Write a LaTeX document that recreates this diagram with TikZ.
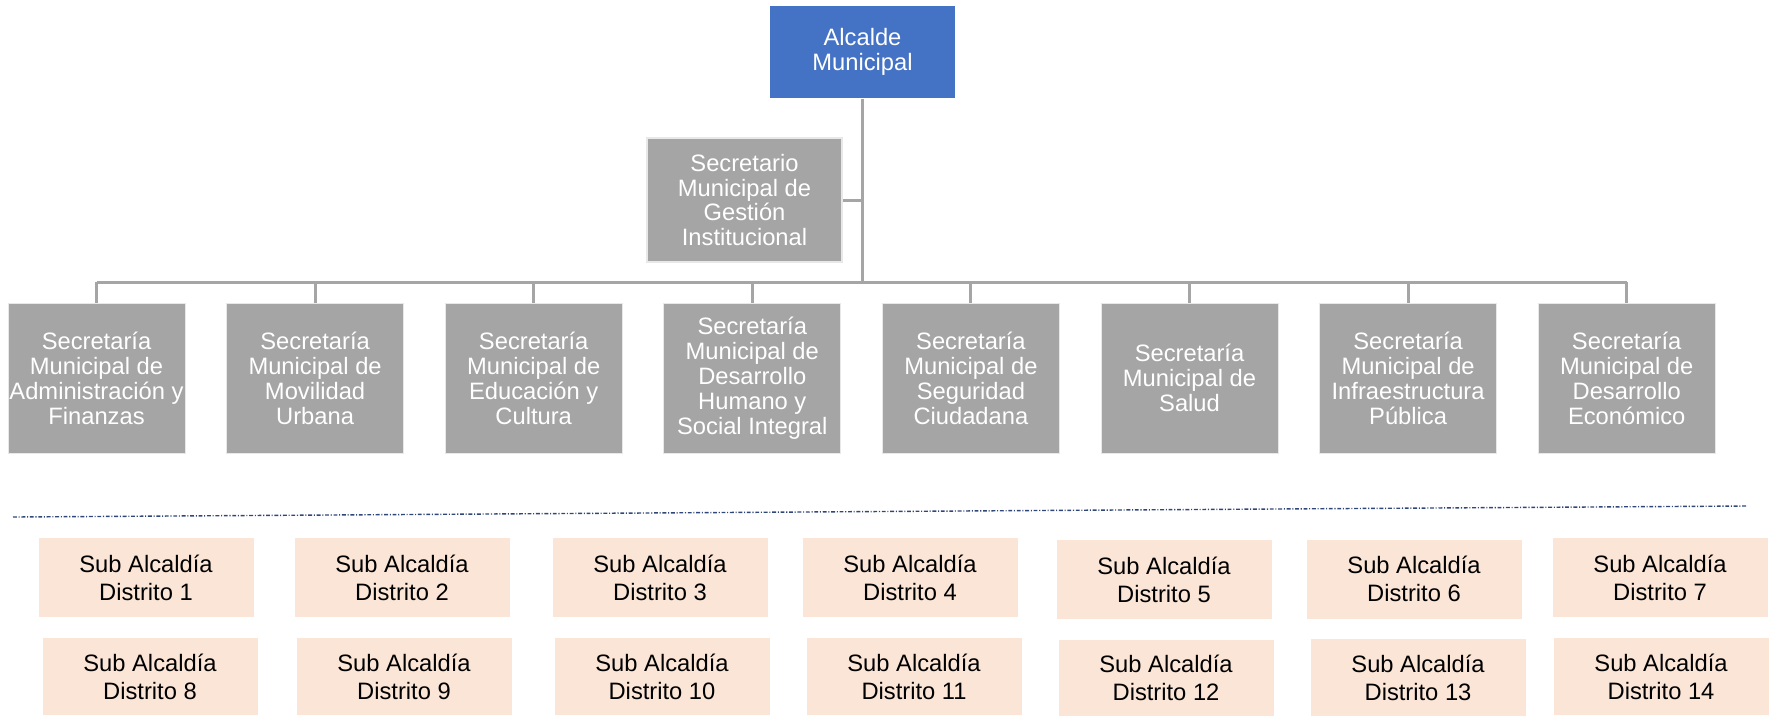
\documentclass[tikz,border=0pt]{standalone}
\usepackage{fontspec}
\setmainfont{Liberation Sans}
\definecolor{accentblue}{HTML}{4472C4}
\definecolor{officegray}{HTML}{A5A5A5}
\definecolor{peach}{HTML}{FBE5D6}
\definecolor{navy}{HTML}{2F4679}
\colorlet{officegraylight}{officegray!25}
\tikzstyle{unit box} = [%
	rectangle,
	align=center,
	inner xsep=0pt,
	inner ysep=1pt,
	text=white,
	font=\fontsize{6.75}{7.1}\selectfont
]
\tikzstyle{mayor} = [%
	unit box,
	fill=accentblue,
	minimum width=18.5mm,
	minimum height=9.2mm
]
\tikzstyle{office} = [%
	unit box,
	fill=officegray,
	draw=officegraylight,
	line width=0.6pt,
	minimum width=19.5mm,
	minimum height=12.4mm
]
\tikzstyle{secretariat} = [%
	unit box,
	fill=officegray,
	draw=officegraylight,
	line width=0.2pt,
	minimum width=17.7mm,
	minimum height=15mm
]
\tikzstyle{district} = [%
	rectangle,
	align=center,
	inner sep=1pt,
	fill=peach,
	minimum width=21.5mm,
	minimum height=7.9mm,
	font=\fontsize{6.75}{8}\selectfont
]
\tikzstyle{district low} = [district, minimum height=7.7mm]
\tikzstyle{link} = [draw=officegray, line width=0.85pt]

\begin{document}
\begin{tikzpicture}[x=0.1mm, y=-0.1mm]

\useasboundingbox (0,0) rectangle (1772,715);

% head of the chart
\node[mayor] (mayor) at (862.5,52) {Alcalde\\Municipal};
\node[office] (gestion) at (744.5,200) {%
	Secretario\\Municipal de\\Gestión\\Institucional
};

% secretariats, one row
\begin{scope}[node distance=21.86mm]
	\node[secretariat] (s1) at (96.5,378) {Secretaría\\Municipal de\\Administración y\\Finanzas};
	\node[secretariat, right of=s1] (s2) {Secretaría\\Municipal de\\Movilidad\\Urbana};
	\node[secretariat, right of=s2] (s3) {Secretaría\\Municipal de\\Educación y\\Cultura};
	\node[secretariat, right of=s3] (s4) {Secretaría\\Municipal de\\Desarrollo\\Humano y\\Social Integral};
	\node[secretariat, right of=s4] (s5) {Secretaría\\Municipal de\\Seguridad\\Ciudadana};
	\node[secretariat, right of=s5] (s6) {Secretaría\\Municipal de\\Salud};
	\node[secretariat, right of=s6] (s7) {Secretaría\\Municipal de\\Infraestructura\\Pública};
	\node[secretariat, right of=s7] (s8) {Secretaría\\Municipal de\\Desarrollo\\Económico};
\end{scope}

% connectors
\coordinate (bar y) at (0,282);
\draw[link] (mayor.south) -- (mayor.south|-bar y);
\draw[link] (gestion.east) -- (mayor.south|-gestion.east);
\draw[link] (s1.north|-bar y) -- (s8.north|-bar y);
\draw[link]
  (s1.north|-bar y) -- (s1.north)
  (s2.north|-bar y) -- (s2.north)
  (s3.north|-bar y) -- (s3.north)
  (s4.north|-bar y) -- (s4.north)
  (s5.north|-bar y) -- (s5.north)
  (s6.north|-bar y) -- (s6.north)
  (s7.north|-bar y) -- (s7.north)
  (s8.north|-bar y) -- (s8.north);

% separator
\coordinate (sep west) at (13,517);
\coordinate (sep east) at (1747,506);
\draw[navy, line width=0.4pt, dash pattern=on 1.1pt off 0.5pt on 0.3pt off 0.5pt] (sep west) -- (sep east);

% sub alcaldias, first row
\node[district] (d1) at (146,577.5) {Sub Alcaldía\\Distrito 1};
\node[district] (d2) at (402,577.5) {Sub Alcaldía\\Distrito 2};
\node[district] (d3) at (660,577.5) {Sub Alcaldía\\Distrito 3};
\node[district] (d4) at (910,577.5) {Sub Alcaldía\\Distrito 4};
\node[district] (d5) at (1164,579.5) {Sub Alcaldía\\Distrito 5};
\node[district] (d6) at (1414,579) {Sub Alcaldía\\Distrito 6};
\node[district] (d7) at (1660,577.5) {Sub Alcaldía\\Distrito 7};

% sub alcaldias, second row
\node[district low] (d8) at (150,676.5) {Sub Alcaldía\\Distrito 8};
\node[district low] (d9) at (404,676.5) {Sub Alcaldía\\Distrito 9};
\node[district low] (d10) at (662,676.5) {Sub Alcaldía\\Distrito 10};
\node[district low] (d11) at (914,676.5) {Sub Alcaldía\\Distrito 11};
\node[district low] (d12) at (1166,678) {Sub Alcaldía\\Distrito 12};
\node[district low] (d13) at (1418,677.5) {Sub Alcaldía\\Distrito 13};
\node[district low] (d14) at (1661,676.5) {Sub Alcaldía\\Distrito 14};

\end{tikzpicture}
\end{document}
